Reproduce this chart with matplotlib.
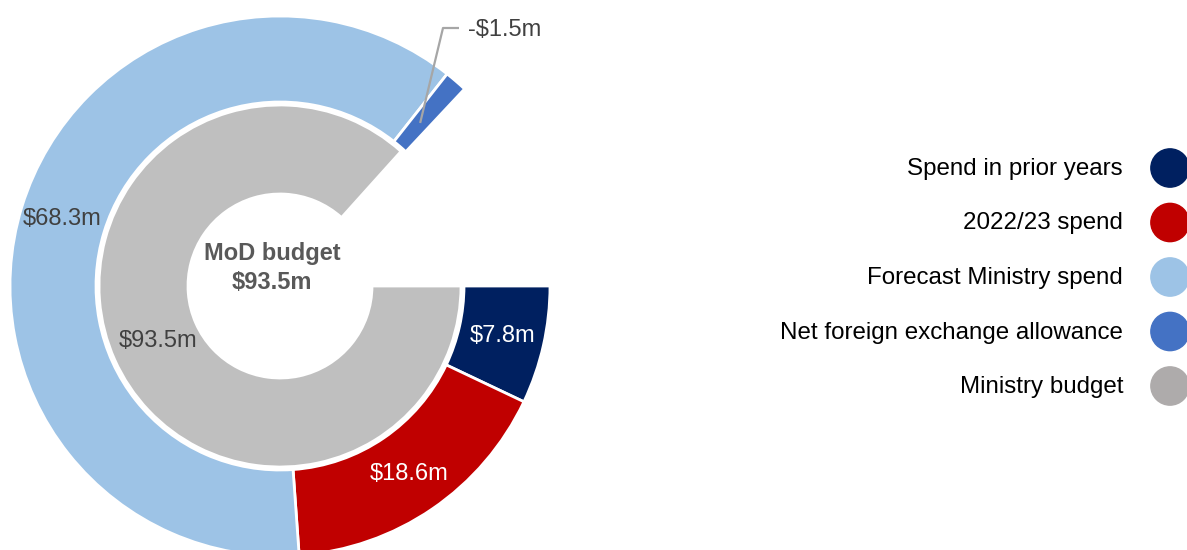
import numpy as np
import matplotlib
matplotlib.use('Agg')
import matplotlib.pyplot as plt

plt.rcParams['font.family'] = ['Liberation Sans', 'DejaVu Sans']

# data
outer_names = ['Spend in prior years', '2022/23 spend', 'Forecast Ministry spend',
               'Net foreign exchange allowance']
outer_vals = [7.8, 18.6, 68.3, 1.5]
outer_labels = ['$7.8m', '$18.6m', '$68.3m', '-$1.5m']
outer_colors = ['#002060', '#C00000', '#9DC3E6', '#4472C4']
outer_text_colors = ['white', 'white', '#404040', '#404040']

inner_vals = [93.5]
inner_labels = ['$93.5m']
inner_colors = ['#BFBFBF']

gap = 14.4  # unfilled part of each ring

legend_names = outer_names + ['Ministry budget']
legend_colors = outer_colors + ['#AEABAB']

# figure in pixel coordinates
fig = plt.figure(figsize=(11.87, 5.5), dpi=100)
ax = fig.add_axes([0, 0, 1, 1])
cx, cy = 280, 264

wp = dict(edgecolor='white', linewidth=2)
outer, _ = ax.pie(outer_vals + [gap], colors=outer_colors + ['none'], radius=270,
                  center=(cx, cy), startangle=0, counterclock=False,
                  wedgeprops=dict(width=86, **wp))
outer[-1].set_edgecolor('none')
inner, _ = ax.pie(inner_vals + [gap], colors=inner_colors + ['none'], radius=181,
                  center=(cx, cy), startangle=0, counterclock=False,
                  wedgeprops=dict(width=89, **wp))
inner[-1].set_edgecolor('none')

def mid(w):
    return np.deg2rad((w.theta1 + w.theta2) / 2)

# ring labels at wedge middles
for w, lab, c in zip(outer[:3], outer_labels[:3], outer_text_colors[:3]):
    a = mid(w)
    ax.text(cx + 228 * np.cos(a), cy + 228 * np.sin(a), lab, color=c,
            fontsize=17, ha='center', va='center')
a = mid(inner[0])
ax.text(cx + 134 * np.cos(a), cy + 134 * np.sin(a), inner_labels[0], color='#404040',
        fontsize=17, ha='center', va='center')

# small slice label with leader line
a = mid(outer[3])
px, py = cx + 215 * np.cos(a), cy + 215 * np.sin(a)
ax.plot([px, 443, 459], [py, 522, 522], color='#A6A6A6', lw=1.6, solid_capstyle='butt')
ax.text(468, 520, outer_labels[3], color='#404040', fontsize=17, ha='left', va='center')

# centre text
ax.text(272, 282, 'MoD budget\n$93.5m', color='#595959', fontsize=17,
        fontweight='bold', ha='center', va='center', linespacing=1.3)

# legend
ys = 382 - 54.5 * np.arange(len(legend_names))
ax.scatter([1170] * len(ys), ys, s=760, c=legend_colors, clip_on=False)
for y, name in zip(ys, legend_names):
    ax.text(1123, y - 1, name, fontsize=17.4, ha='right', va='center', color='black')

ax.set_xlim(0, 1187)
ax.set_ylim(0, 550)
ax.axis('off')

fig.savefig('out.png', dpi=100)
